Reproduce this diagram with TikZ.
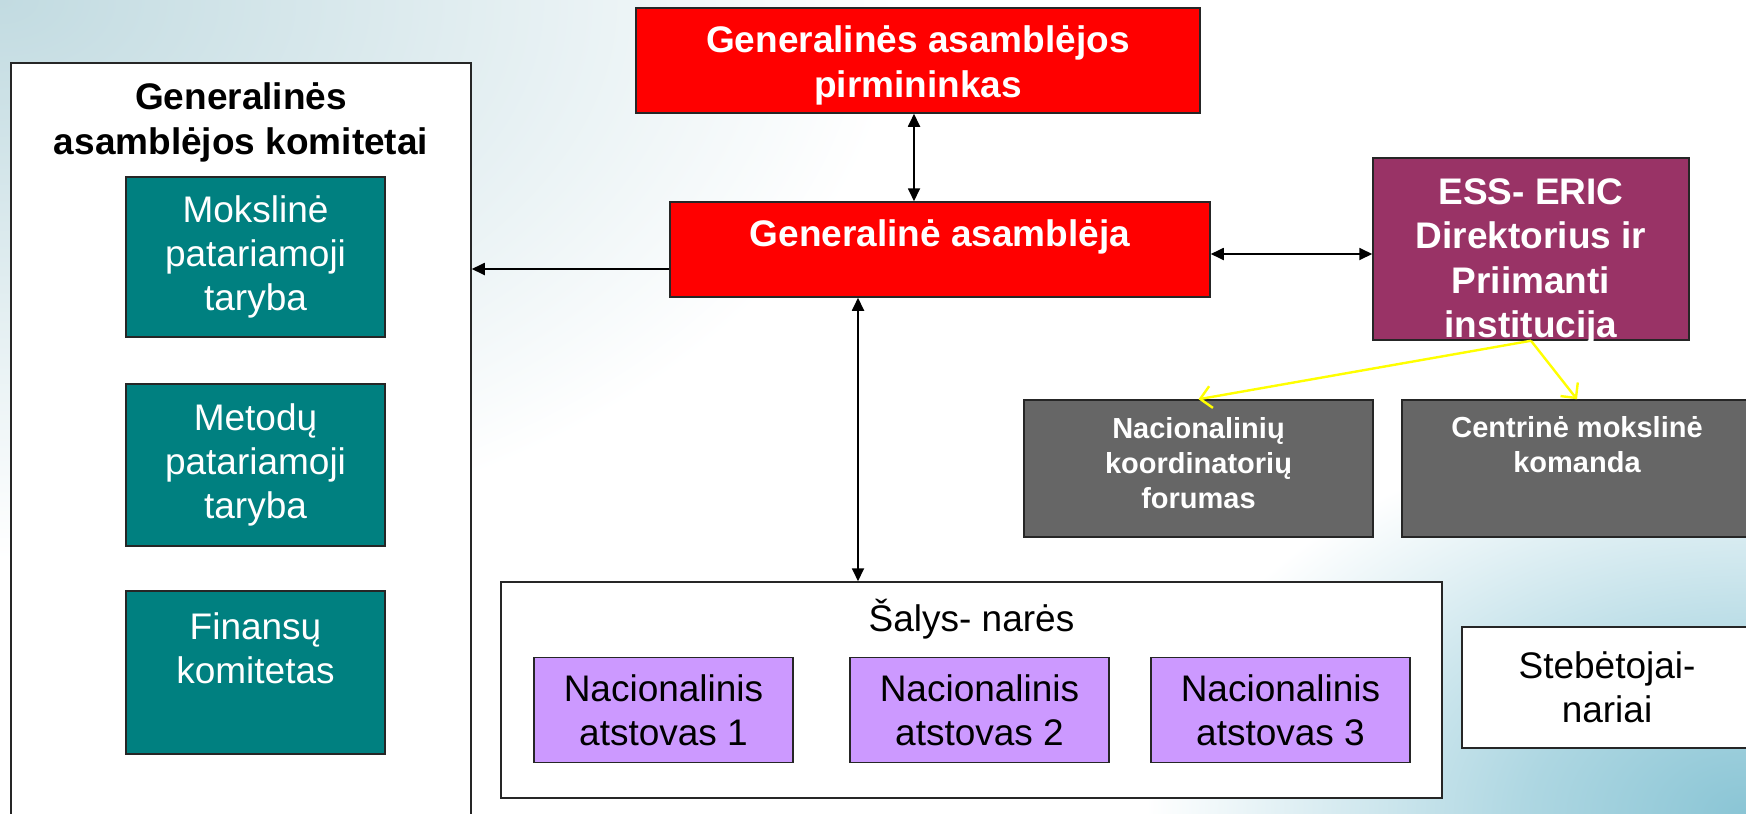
\documentclass[tikz,border=0pt]{standalone}
\usepackage{fontspec}
\setmainfont{Liberation Sans}
\usetikzlibrary{arrows.meta,calc}
\definecolor{redc}{HTML}{FF0000}
\definecolor{tealc}{HTML}{008080}
\definecolor{essc}{HTML}{993366}
\definecolor{grayc}{HTML}{666666}
\definecolor{purc}{HTML}{CC99FF}
\definecolor{yelc}{HTML}{FFFF00}
\definecolor{tlc}{HTML}{C2DBE1}
\definecolor{brc}{HTML}{8AC5D5}
\pgfdeclareradialshading{tlbg}{\pgfpoint{0bp}{0bp}}{color(0bp)=(tlc); color(9bp)=(tlc!65!white); color(25bp)=(white); color(50bp)=(white)}
\pgfdeclareradialshading{brbg}{\pgfpoint{0bp}{0bp}}{color(0bp)=(brc); color(9bp)=(brc!70!white); color(25bp)=(white); color(50bp)=(white)}
\tikzset{
  bx/.style={draw=black!85, line width=1.5pt, inner sep=0pt, align=center},
  arr/.style={line width=1.8pt, -{Triangle[length=13pt,width=12pt]}},
  biarr/.style={line width=1.8pt, {Triangle[length=13pt,width=12pt]}-{Triangle[length=13pt,width=12pt]}},
  yarr/.style={draw=yelc, line width=2.4pt, -{Straight Barb[length=11pt,width=22pt]}},
  fbig/.style={font=\bfseries\fontsize{37}{45}\selectfont, align=center},
  freg/.style={font=\fontsize{37}{44}\selectfont, align=center},
  fsmall/.style={font=\bfseries\fontsize{29}{35}\selectfont, align=center},
}
\begin{document}
\begin{tikzpicture}[x=1pt,y=-1pt]
\useasboundingbox (0,0) rectangle (1746,814);
% background
\fill[white] (0,0) rectangle (1746,814);
\shade[shading=tlbg] (0,0) ellipse [x radius=900, y radius=560];
\shade[shading=brbg] (1746,814) ellipse [x radius=600, y radius=400];

% left committees box
\node[bx, fill=white, minimum width=460pt, minimum height=780pt] (komit) at (241,453) {};
\node[fbig, text=black] (komitt) at (241,122) {Generalinės\\asamblėjos komitetai};
\node[bx, fill=tealc, text=white, freg, minimum width=259pt, minimum height=160pt] (mok) at (255.5,257) {Mokslinė\\patariamoji\\taryba};
\node[bx, fill=tealc, text=white, freg, minimum width=259pt, minimum height=162pt] (met) at (255.5,465) {Metodų\\patariamoji\\taryba};
\node[bx, fill=tealc, minimum width=259pt, minimum height=163pt] (fin) at (255.5,672.5) {};
\node[freg, text=white] (fint) at (255.5,648) {Finansų\\komitetas};

% red boxes
\node[bx, fill=redc, minimum width=564pt, minimum height=105pt] (pirm) at (918,60.5) {};
\node[fbig, text=white] (pirmt) at (918,65) {Generalinės asamblėjos\\pirmininkas};
\node[bx, fill=redc, minimum width=540pt, minimum height=95pt] (ga) at (940,249.5) {};
\node[fbig, text=white] (gat) at (940,237) {Generalinė asamblėja};

% ESS box
\node[bx, fill=essc, minimum width=316pt, minimum height=182pt] (ess) at (1531,249) {};
\node[font=\bfseries\fontsize{37}{44.3}\selectfont, align=center, text=white] (esst) at (1531,262) {ESS- ERIC\\Direktorius ir\\Priimanti\\institucija};

% gray boxes
\node[bx, fill=grayc, minimum width=349pt, minimum height=137pt] (nac) at (1198.5,468.5) {};
\node[fsmall, text=white] (nact) at (1198.5,463) {Nacionalinių\\koordinatorių\\forumas};
\node[bx, fill=grayc, minimum width=350pt, minimum height=137pt] (cent) at (1577,468.5) {};
\node[fsmall, text=white] (centt) at (1577,445) {Centrinė mokslinė\\komanda};

% member states
\node[bx, fill=white, minimum width=941pt, minimum height=216pt] (salys) at (971.5,690) {};
\node[freg, text=black] (salyst) at (971.5,619) {Šalys- narės};
\node[bx, fill=purc, freg, minimum width=259pt, minimum height=105pt] (p1) at (663.5,710) {Nacionalinis\\atstovas 1};
\node[bx, fill=purc, freg, minimum width=259pt, minimum height=105pt] (p2) at (979.5,710) {Nacionalinis\\atstovas 2};
\node[bx, fill=purc, freg, minimum width=259pt, minimum height=105pt] (p3) at (1280.5,710) {Nacionalinis\\atstovas 3};

% observers
\node[bx, fill=white, freg, minimum width=290pt, minimum height=121pt] (steb) at (1607,687.5) {Stebėtojai-\\nariai};

% connectors
\draw[biarr] ([xshift=-4pt]pirm.south) -- ([xshift=-4pt]pirm.south |- ga.north);
\coordinate (gaw) at ($(ga.west)+(0,19.5)$);
\draw[arr] (gaw) -- (gaw -| komit.east);
\coordinate (gae) at ($(ga.east)+(0,4.5)$);
\draw[biarr] (gae) -- (gae -| ess.west);
\coordinate (gas) at ($(ga.south)+(-82,0)$);
\draw[biarr] (gas) -- (gas |- salys.north);
\draw[yarr] (ess.south) -- (nac.north);
\draw[yarr] (ess.south) -- (cent.north);
\end{tikzpicture}
\end{document}
